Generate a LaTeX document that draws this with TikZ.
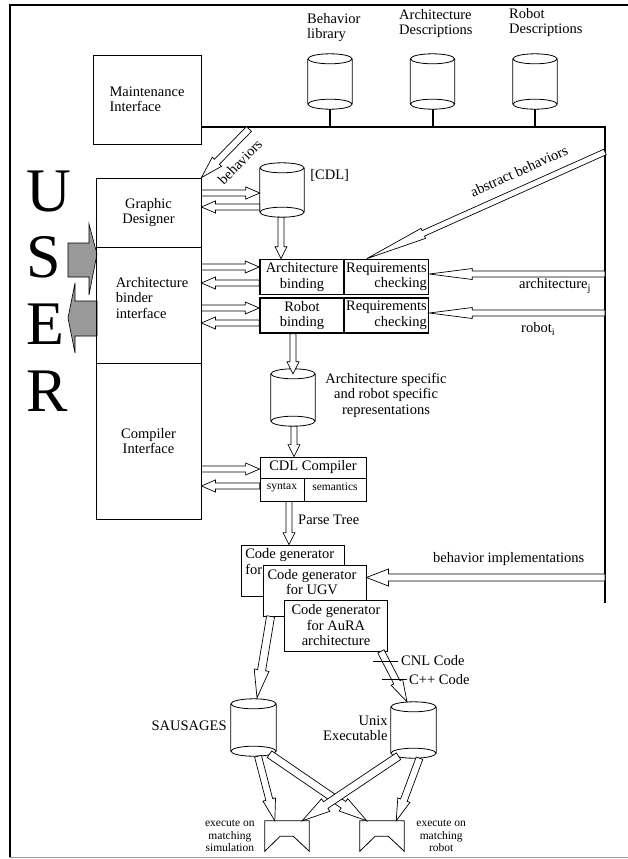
\documentclass[tikz,border=0pt]{standalone}
\usepackage{fontspec}
\setmainfont{Liberation Serif}
\usetikzlibrary{calc,positioning}
\tikzset{
  box/.style={draw, rectangle, line width=0.8pt, inner sep=0pt},
  colbox/.style={box, minimum width=105pt},
  bindbox/.style={box, line width=1.6pt, minimum width=84pt, minimum height=35pt, align=center},
  genbox/.style={box, fill=white, minimum width=103pt, minimum height=51pt, align=center},
  lbl/.style={inner sep=0pt, align=center},
  smalltxt/.style={font=\fontsize{11.5}{12.5}\selectfont},
  userletter/.style={inner sep=0pt, anchor=base west, font=\fontsize{62}{62}\selectfont},
  userarrow/.style={draw, fill=black!40, line width=0.6pt},
  bus/.style={line width=2.4pt},
  stem/.style={line width=2pt},
  drumline/.style={line width=0.8pt},
  tray/.style={inner sep=0pt, minimum width=44pt, minimum height=30pt},
  hollow/.style={draw, fill=white, line width=0.7pt, linkarr},
  arr shaft/.store in=\arrshaft,
  arr head/.store in=\arrhead,
  arr len/.store in=\arrlen,
  linkarr/.style={arr shaft=3pt, arr head=6pt, arr len=14pt},
  flowarr/.style={arr shaft=3pt, arr head=6pt, arr len=12pt},
  feedarr/.style={arr shaft=3pt, arr head=5.5pt, arr len=43pt},
  absarr/.style={arr shaft=3pt, arr head=5.5pt, arr len=62pt},
  behavarr/.style={arr shaft=3.5pt, arr head=6.5pt, arr len=22pt},
  bimparr/.style={arr shaft=3.5pt, arr head=8.5pt, arr len=22pt},
  outarr/.style={arr shaft=4pt, arr head=7.5pt, arr len=28pt},
  execarr/.style={arr shaft=3.5pt, arr head=6.5pt, arr len=22pt}
}
\newcommand\blockarrow[3][]{%
  \draw[hollow,#1] let \p1=(#2), \p2=(#3),
      \n1={atan2(\y2-\y1,\x2-\x1)},
      \n2={veclen(\x2-\x1,\y2-\y1)-\arrlen} in
    ($(\p1)+({\n1+90}:\arrshaft)$) -- ++(\n1:\n2) -- ++({\n1+90}:\arrhead-\arrshaft)
    -- (\p2) -- ($(\p1)+(\n1:\n2)+({\n1-90}:\arrhead)$) -- ++({\n1+90}:\arrhead-\arrshaft)
    -- ($(\p1)+({\n1-90}:\arrshaft)$) -- cycle;}
\newcommand\drum[4]{%
  \node[inner sep=0pt, minimum width=#3, minimum height=#4] (#1) at (#2) {};
  \draw[drumline] (#1.north west) -- (#1.south west) (#1.north east) -- (#1.south east)
    (#1.north) ellipse[x radius=#3/2, y radius=5pt]
    (#1.south) ellipse[x radius=#3/2, y radius=5pt];}

\begin{document}
\begin{tikzpicture}[x=1pt, y=1pt, font=\fontsize{14.5}{15.5}\selectfont]
  \useasboundingbox (0,0) rectangle (628,-859);
  \draw[line width=2pt] (10,-5) -- (10,-857);
  \draw[line width=1.2pt] (9,-5) -- (628,-5);
  \draw[black!40, line width=1pt] (9,-857.5) -- (628,-857.5);

  \node[box, minimum width=108pt, minimum height=89pt, align=left] (maint) at (147,-99.5) {Maintenance\\Interface};
  \drum{lib}{330,-81.5}{44pt}{45pt}
  \drum{archd}{432.5,-81.5}{44pt}{45pt}
  \drum{robd}{535,-81.5}{44pt}{45pt}
  \node[lbl, align=left, anchor=north west] (libtxt) at (307,-13) {Behavior\\library};
  \node[lbl, align=left, anchor=north west] (archdtxt) at (399,-9) {Architecture\\Descriptions};
  \node[lbl, align=left, anchor=north west] (robdtxt) at (509,-8) {Robot\\Descriptions};
  \coordinate (busL) at (maint.east |- 0,-127);
  \coordinate (busR) at (605,-127);
  \coordinate (busB) at (605,-603);
  \draw[bus] (busL) -- (busR) -- (busB);
  \foreach \d in {lib,archd,robd}
    \draw[stem] ($(\d.south)+(0,-5)$) -- (\d.south |- busL);

  \foreach \ch [count=\i] in {U,S,E,R}
    \node[userletter] (user\i) at (26,{-211-66.7*(\i-1)}) {\ch};
  \draw[userarrow] (68,-243) -- (89,-243) -- (89,-224) -- (97,-254) -- (89,-295) -- (89,-277) -- (68,-277) -- cycle;
  \draw[userarrow] (97,-301) -- (75,-301) -- (75,-283) -- (68,-318) -- (75,-353) -- (75,-336) -- (97,-336) -- cycle;

  \node[colbox, minimum height=69pt, align=center] (gd) at (148.5,-212.5) {Graphic\\Designer};
  \node[colbox, minimum height=116pt] (abi) at (148.5,-305) {};
  \node[lbl, align=left] (abitxt) at (152,-298) {Architecture\\binder\\interface};
  \node[colbox, minimum height=156pt, align=center] (ci) at (148.5,-441) {Compiler\\Interface};

  \drum{cdl}{282,-190}{44pt}{44pt}
  \node[lbl, anchor=west] (cdltxt) at ($(cdl.north east)+(6,-8)$) {[CDL]};
  \node[bindbox] (archbind) at (302,-277) {Architecture\\binding};
  \node[bindbox, align=right] (archreq) at (386.5,-277) {Requirements\\checking};
  \node[bindbox] (robbind) at (302,-315.5) {Robot\\binding};
  \node[bindbox, align=right] (robreq) at (386.5,-315.5) {Requirements\\checking};
  \drum{asr}{293,-397.5}{44pt}{47pt}
  \node[lbl] (asrtxt) at (386,-395) {Architecture specific\\and robot specific\\representations};

  \node[box, minimum width=106pt, minimum height=44pt] (cdlc) at (313,-479) {};
  \coordinate (cdlmid) at (304,-478);
  \draw[line width=0.8pt] (cdlc.west |- cdlmid) -- (cdlc.east |- cdlmid) (cdlmid) -- (cdlmid |- cdlc.south);
  \node[lbl] (cdlname) at (313,-467) {CDL Compiler};
  \node[lbl, smalltxt] (syn) at (282,-487) {syntax};
  \node[lbl, smalltxt] (sem) at (335,-487) {semantics};

  \blockarrow[linkarr]{gd.east |- 0,-193}{cdl.west |- 0,-193}
  \blockarrow[linkarr]{cdl.west |- 0,-207}{gd.east |- 0,-207}
  \blockarrow[linkarr]{abi.east |- 0,-267}{archbind.west |- 0,-267}
  \blockarrow[linkarr]{archbind.west |- 0,-283}{abi.east |- 0,-283}
  \blockarrow[linkarr]{abi.east |- 0,-308}{robbind.west |- 0,-308}
  \blockarrow[linkarr]{robbind.west |- 0,-323}{abi.east |- 0,-323}
  \blockarrow[linkarr]{ci.east |- 0,-469}{cdlc.west |- 0,-469}
  \blockarrow[linkarr]{cdlc.west |- 0,-486}{ci.east |- 0,-486}

  \coordinate (cdlout) at ($(cdl.south)+(-1,-5)$);
  \blockarrow[flowarr]{cdlout}{cdlout |- archbind.north}
  \coordinate (robout) at (robbind.south -| asr.north);
  \blockarrow[flowarr]{robout}{asr.north}
  \coordinate (asrout) at ($(asr.south)+(1,-5)$);
  \blockarrow[flowarr]{asrout}{asrout |- cdlc.north}

  \coordinate (behin) at (249,-129);
  \blockarrow[behavarr]{behin}{gd.north east}
  \node[lbl, rotate=46] (behtxt) at (240,-162) {behaviors};
  \coordinate (absin) at (605,-152);
  \blockarrow[absarr]{absin}{$(archreq.north west)+(23,0)$}
  \node[lbl, rotate=24.4] (abstxt) at (519,-171) {abstract behaviors};
  \coordinate (archin) at (605,-274);
  \blockarrow[feedarr]{archin}{archin -| archreq.east}
  \node[lbl, anchor=west] (archjtxt) at (519,-286) {architecture\textsubscript{j}};
  \coordinate (robin) at (605,-313);
  \blockarrow[feedarr]{robin}{robin -| robreq.east}
  \node[lbl, anchor=west] (robitxt) at (521,-329) {robot\textsubscript{i}};

  \node[genbox] (gen1) at (293,-570.5) {};
  \node[lbl, align=left, anchor=north west] (gen1txt) at ($(gen1.north west)+(4,-4)$) {Code generator\\for};
  \node[genbox] (gen2) at (314.5,-590.5) {};
  \node[lbl] (gen2txt) at (312,-582) {Code generator\\for UGV};
  \node[genbox] (gen3) at (336,-625.5) {Code generator\\for AuRA\\architecture};
  \coordinate (ptsrc) at ($(cdlc.south)+(-24,0)$);
  \blockarrow[flowarr]{ptsrc}{ptsrc |- gen1.north}
  \node[lbl, anchor=west] (parsetxt) at (298,-520) {Parse Tree};
  \coordinate (bimp) at (605,-577.5);
  \blockarrow[bimparr]{bimp}{bimp -| gen2.east}
  \node[lbl, anchor=west] (bimptxt) at (433,-559) {behavior implementations};

  \drum{sau}{253.5,-727.5}{45pt}{47pt}
  \drum{unix}{413.5,-730}{45pt}{46pt}
  \node[lbl, anchor=east] (sautxt) at ($(sau.west)+(-4,1.5)$) {SAUSAGES};
  \node[lbl, align=right, anchor=east] (unixtxt) at ($(unix.west)+(-3,1.5)$) {Unix\\Executable};
  \blockarrow[outarr]{$(gen2.south west)+(8,0)$}{$(sau.north)+(3.5,6)$}
  \blockarrow[execarr]{$(gen3.south east)+(-7,0)$}{$(unix.north)+(-6.5,5)$}
  \node[lbl, anchor=west] (cnl) at (401,-661) {CNL Code};
  \node[lbl, anchor=west] (cpp) at (409,-680) {C++ Code};
  \draw[line width=0.8pt] ($(cnl.west)+(-3,0)$) -- ++(-25,0);
  \draw[line width=0.8pt] ($(cpp.west)+(-2,1)$) -- ++(-25,0);

  \node[tray] (sim) at (287,-836) {};
  \node[tray] (rob) at (382,-836) {};
  \foreach \t in {sim,rob}
    \draw[line width=0.8pt] (\t.south west) -- (\t.north west) -- (\t.north east) -- (\t.south east)
      -- ++(-16,15) -- ++(-13,0) -- cycle;
  \node[lbl, smalltxt, left=10pt of sim] (simtxt) {execute on\\matching\\simulation};
  \node[lbl, smalltxt, right=12pt of rob] (robtxt) {execute on\\matching\\robot};
  \blockarrow[execarr]{$(sau.south)+(4.5,-5)$}{$(sim.north west)+(10,0)$}
  \blockarrow[outarr]{$(sau.south)+(16,-3)$}{$(rob.north west)+(7,0)$}
  \blockarrow[outarr]{$(unix.south)+(-15,-3)$}{$(sim.north east)+(-7,0)$}
  \blockarrow[execarr]{$(unix.south)+(6,-5)$}{$(rob.north east)+(-8,0)$}
\end{tikzpicture}
\end{document}
